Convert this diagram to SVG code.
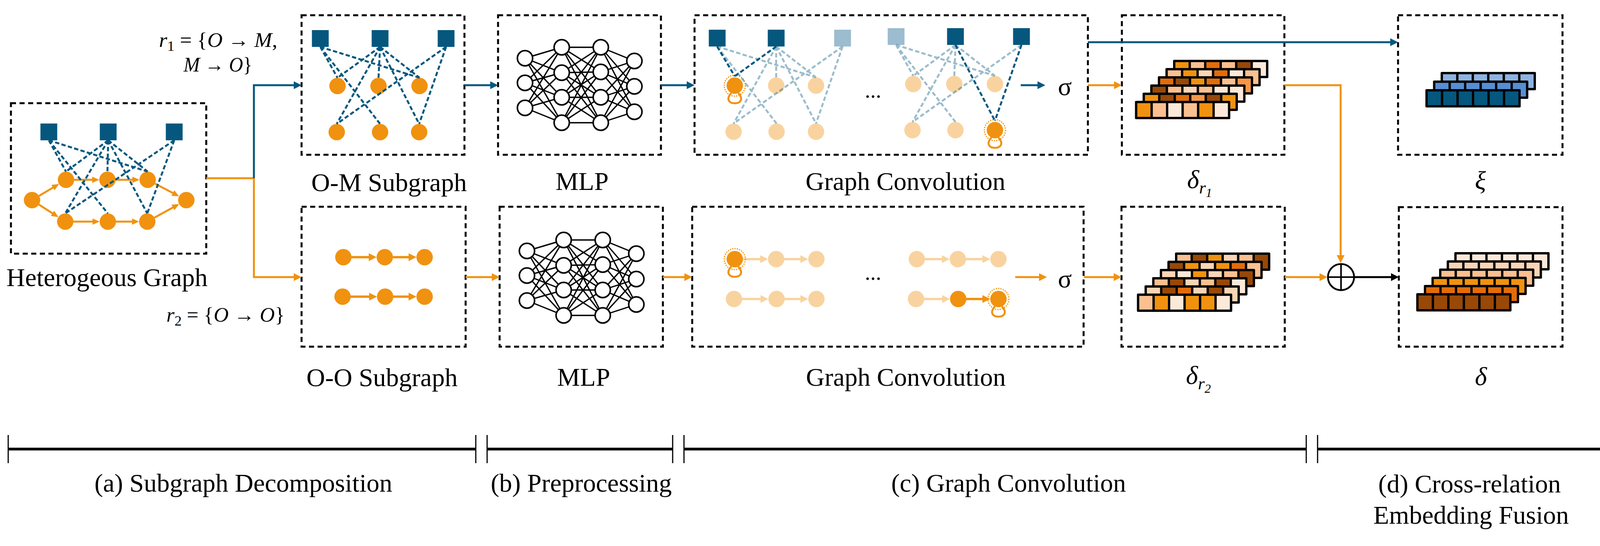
<svg xmlns="http://www.w3.org/2000/svg" width="4142" height="1397" viewBox="0 0 4142 1397">
<style>
.box{fill:none;stroke:#000;stroke-width:5;stroke-dasharray:13 9}
text{font-family:"Liberation Serif","Times New Roman",serif;fill:#000}
.lbl{font-size:66px;text-anchor:middle}
.math{font-size:52px}
.it{font-style:italic}
.sq{fill:#05577E}
.sql{fill:#9CBCCF}
.on{fill:#F0920F}
.onl{fill:#F9D39F}
.de{stroke:#05577E;stroke-width:5;stroke-dasharray:11 6;fill:none}
.del{stroke:#05577E;stroke-opacity:.4;stroke-width:5;stroke-dasharray:11 6;fill:none}
.oa{stroke:#F0920F;stroke-width:5;fill:none}
.oa6{stroke:#F0920F;stroke-width:6;fill:none}
.oal{stroke:#F9D39F;stroke-width:6;fill:none}
.ba{stroke:#05577E;stroke-width:5;fill:none}
.ka{stroke:#000;stroke-width:5;fill:none}
.ring{fill:none;stroke:#F0920F;stroke-width:3;stroke-dasharray:3 3}
.loop{fill:none;stroke:#F0920F;stroke-width:5}
.mn{fill:#fff;stroke:#000;stroke-width:4}
.me{stroke:#000;stroke-width:3.4;fill:none}
.lf{fill:#000}
.cO{fill:#F0920F}.cL{fill:#FAC090}.cD{fill:#E36C09}.cB{fill:#984807}.cC{fill:#FDE9D9}.cP{fill:#FBD5B5}.cA{fill:#F79646}
.x1{fill:#8DB3E2}.x2{fill:#558ED5}.x3{fill:#05577E}
.brk{stroke:#000;stroke-width:7}
.tick{stroke:#000;stroke-width:3}
</style>
<defs>
<marker id="mo" markerUnits="userSpaceOnUse" markerWidth="20" markerHeight="20" refX="14" refY="10" orient="auto"><path d="M0,0L20,10L0,20z" fill="#F0920F"/></marker>
<marker id="mol" markerUnits="userSpaceOnUse" markerWidth="20" markerHeight="20" refX="14" refY="10" orient="auto"><path d="M0,0L20,10L0,20z" fill="#F9D39F"/></marker>
<marker id="mb" markerUnits="userSpaceOnUse" markerWidth="20" markerHeight="20" refX="14" refY="10" orient="auto"><path d="M0,0L20,10L0,20z" fill="#05577E"/></marker>
<marker id="mk" markerUnits="userSpaceOnUse" markerWidth="20" markerHeight="20" refX="14" refY="10" orient="auto"><path d="M0,0L20,10L0,20z" fill="#000"/></marker>
<marker id="mos" markerUnits="userSpaceOnUse" markerWidth="18" markerHeight="16" refX="12" refY="8" orient="auto"><path d="M0,0L18,8L0,16z" fill="#F0920F"/></marker>
<g id="mlpnet">
<path class="me" d="M1344 149L1438 121M1344 149L1438 186M1344 149L1438 249M1344 149L1438 314M1344 212L1438 121M1344 212L1438 186M1344 212L1438 249M1344 212L1438 314M1344 276L1438 121M1344 276L1438 186M1344 276L1438 249M1344 276L1438 314"/>
<path class="me" d="M1438 121L1538 121M1438 121L1538 184M1438 121L1538 249M1438 121L1538 314M1438 186L1538 121M1438 186L1538 184M1438 186L1538 249M1438 186L1538 314M1438 249L1538 121M1438 249L1538 184M1438 249L1538 249M1438 249L1538 314M1438 314L1538 121M1438 314L1538 184M1438 314L1538 249M1438 314L1538 314"/>
<path class="me" d="M1538 121L1624 156M1538 121L1624 221M1538 121L1624 286M1538 184L1624 156M1538 184L1624 221M1538 184L1624 286M1538 249L1624 156M1538 249L1624 221M1538 249L1624 286M1538 314L1624 156M1538 314L1624 221M1538 314L1624 286"/>
<circle class="mn" cx="1344" cy="149" r="19.5"/><circle class="mn" cx="1344" cy="212" r="19.5"/><circle class="mn" cx="1344" cy="276" r="19.5"/>
<circle class="mn" cx="1438" cy="121" r="19.5"/><circle class="mn" cx="1438" cy="186" r="19.5"/><circle class="mn" cx="1438" cy="249" r="19.5"/><circle class="mn" cx="1438" cy="314" r="19.5"/>
<circle class="mn" cx="1538" cy="121" r="19.5"/><circle class="mn" cx="1538" cy="184" r="19.5"/><circle class="mn" cx="1538" cy="249" r="19.5"/><circle class="mn" cx="1538" cy="314" r="19.5"/>
<circle class="mn" cx="1624" cy="156" r="19.5"/><circle class="mn" cx="1624" cy="221" r="19.5"/><circle class="mn" cx="1624" cy="286" r="19.5"/>
</g>
</defs>
<rect width="4142" height="1397" fill="#fff"/>

<!-- Heterogeneous graph -->
<g id="n-hetero">
<rect class="box" x="28" y="264" width="500" height="385"/>
<g class="oa" marker-end="url(#mos)">
<line x1="100" y1="501.2" x2="145.9" y2="473.9"/>
<line x1="99.6" y1="523.4" x2="144.4" y2="552.3"/>
<line x1="190" y1="460" x2="248" y2="460"/>
<line x1="296" y1="460" x2="351" y2="460"/>
<line x1="188" y1="567" x2="249" y2="567"/>
<line x1="297" y1="567" x2="350" y2="567"/>
<line x1="396.6" y1="469.8" x2="453.1" y2="499.4"/>
<line x1="395.4" y1="556.9" x2="453.3" y2="525"/>
</g>
<g class="on">
<circle cx="82" cy="512" r="21"/><circle cx="169" cy="460" r="21"/><circle cx="275" cy="460" r="21"/><circle cx="378" cy="460" r="21"/>
<circle cx="167" cy="567" r="21"/><circle cx="276" cy="567" r="21"/><circle cx="377" cy="567" r="21"/><circle cx="477" cy="512" r="21"/>
</g>
<g class="sq"><rect x="103.5" y="316" width="43" height="43"/><rect x="255.5" y="316" width="43" height="43"/><rect x="424.5" y="316" width="43" height="43"/></g>
<path class="de" d="M125 359L169 439M125 359L276 546M125 359L378 439M277 359L169 439M277 359L275 439M277 359L378 439M277 359L167 546M277 359L377 546M446 359L167 546M446 359L377 546"/>
<text class="lbl" x="274" y="732">Heterogeous Graph</text>
</g>

<!-- O-M subgraph -->
<g id="n-om">
<rect class="box" x="772" y="39" width="417" height="357"/>
<g class="on">
<circle cx="864" cy="220" r="21"/><circle cx="969" cy="220" r="21"/><circle cx="1074" cy="220" r="21"/>
<circle cx="862" cy="338" r="21"/><circle cx="973" cy="338" r="21"/><circle cx="1073" cy="338" r="21"/>
</g>
<g class="sq"><rect x="798.5" y="77" width="43" height="43"/><rect x="951.5" y="77" width="43" height="43"/><rect x="1120.5" y="77" width="43" height="43"/></g>
<path class="de" d="M820 120L864 199M820 120L973 317M820 120L1074 199M973 120L864 199M973 120L969 199M973 120L1074 199M973 120L862 317M973 120L1073 317M1142 120L862 317M1142 120L1073 317"/>
<text class="lbl" x="996" y="489">O-M Subgraph</text>
</g>

<!-- O-O subgraph -->
<g id="n-oo">
<rect class="box" x="772" y="529" width="420" height="358"/>
<g class="oa6" marker-end="url(#mo)">
<line x1="900" y1="658" x2="958" y2="658"/><line x1="1006" y1="658" x2="1060" y2="658"/>
<line x1="898" y1="759" x2="959" y2="759"/><line x1="1007" y1="759" x2="1060" y2="759"/>
</g>
<g class="on">
<circle cx="879" cy="658" r="21"/><circle cx="985" cy="658" r="21"/><circle cx="1087" cy="658" r="21"/>
<circle cx="877" cy="759" r="21"/><circle cx="986" cy="759" r="21"/><circle cx="1087" cy="759" r="21"/>
</g>
<text class="lbl" x="978" y="988">O-O Subgraph</text>
</g>

<!-- MLP -->
<g id="n-mlp-top">
<rect class="box" x="1275" y="39" width="417" height="357"/>
<use href="#mlpnet"/>
<text class="lbl" x="1490" y="486">MLP</text>
</g>
<g id="n-mlp-bottom">
<rect class="box" x="1279" y="529" width="418" height="358"/>
<use href="#mlpnet" transform="translate(5,493)"/>
<text class="lbl" x="1494" y="987">MLP</text>
</g>

<!-- Graph convolution top -->
<g id="n-gc-top">
<rect class="box" x="1778" y="39" width="1007" height="357"/>
<g class="onl">
<circle cx="1987" cy="219" r="21"/><circle cx="2089" cy="219" r="21"/>
<circle cx="1878" cy="337" r="21"/><circle cx="1988" cy="337" r="21"/><circle cx="2089" cy="337" r="21"/>
<circle cx="2338" cy="215" r="21"/><circle cx="2443" cy="215" r="21"/><circle cx="2547" cy="215" r="21"/>
<circle cx="2336" cy="333" r="21"/><circle cx="2446" cy="333" r="21"/>
</g>
<circle class="on" cx="1881" cy="219" r="21"/>
<circle class="ring" cx="1881" cy="219" r="27"/>
<path class="loop" d="M1872 238C1841 273 1921 273 1890 238"/>
<circle class="on" cx="2547" cy="333" r="21"/>
<circle class="ring" cx="2547" cy="333" r="27"/>
<path class="loop" d="M2538 352C2507 387 2587 387 2556 352"/>
<g class="sq"><rect x="1814.5" y="76" width="43" height="43"/><rect x="1965.5" y="76" width="43" height="43"/><rect x="2424.5" y="72" width="43" height="43"/><rect x="2593.5" y="72" width="43" height="43"/></g>
<g class="sql"><rect x="2135.5" y="76" width="43" height="43"/><rect x="2272.5" y="72" width="43" height="43"/></g>
<path class="del" d="M1836 119L1988 316M1836 119L2089 198M1987 119L1987 198M1987 119L2089 198M1987 119L1878 316M1987 119L2089 316M2157 119L1878 316M2157 119L2089 316"/>
<path class="del" d="M2294 115L2338 194M2294 115L2446 312M2294 115L2547 194M2446 115L2338 194M2446 115L2443 194M2446 115L2547 194M2446 115L2336 312M2615 115L2336 312"/>
<path class="de" d="M1836 119L1881 195M1987 119L1881 195M2446 115L2547 309M2615 115L2547 309"/>
<text x="2235" y="250" font-size="56" text-anchor="middle">...</text>
<line class="ba" x1="2613" y1="218" x2="2670" y2="218" marker-end="url(#mb)"/>
<text class="lbl" x="2726" y="243">σ</text>
<text class="lbl" x="2318" y="486">Graph Convolution</text>
</g>

<!-- Graph convolution bottom -->
<g id="n-gc-bottom">
<rect class="box" x="1772" y="529" width="1002" height="358"/>
<g class="oal" marker-end="url(#mol)">
<line x1="1902" y1="663" x2="1960" y2="663"/><line x1="2008" y1="663" x2="2063" y2="663"/>
<line x1="1900" y1="765" x2="1961" y2="765"/><line x1="2009" y1="765" x2="2063" y2="765"/>
<line x1="2368" y1="663" x2="2425" y2="663"/><line x1="2473" y1="663" x2="2529" y2="663"/>
<line x1="2366" y1="765" x2="2426" y2="765"/>
</g>
<line class="oa6" x1="2474" y1="765" x2="2529" y2="765" marker-end="url(#mo)"/>
<g class="onl">
<circle cx="1987" cy="663" r="21"/><circle cx="2090" cy="663" r="21"/>
<circle cx="1879" cy="765" r="21"/><circle cx="1988" cy="765" r="21"/><circle cx="2090" cy="765" r="21"/>
<circle cx="2347" cy="663" r="21"/><circle cx="2452" cy="663" r="21"/><circle cx="2556" cy="663" r="21"/>
<circle cx="2345" cy="765" r="21"/>
</g>
<circle class="on" cx="2453" cy="765" r="21"/>
<circle class="on" cx="1881" cy="663" r="21"/>
<circle class="ring" cx="1881" cy="663" r="27"/>
<path class="loop" d="M1872 682C1841 717 1921 717 1890 682"/>
<circle class="on" cx="2556" cy="765" r="21"/>
<circle class="ring" cx="2556" cy="765" r="27"/>
<path class="loop" d="M2547 784C2516 819 2596 819 2565 784"/>
<text x="2235" y="716" font-size="56" text-anchor="middle">...</text>
<line class="oa" x1="2599" y1="709" x2="2674" y2="709" marker-end="url(#mo)"/>
<text class="lbl" x="2726" y="735">σ</text>
<text class="lbl" x="2319" y="987">Graph Convolution</text>
</g>

<!-- delta r1 -->
<g id="n-delta-r1">
<rect class="box" x="2872" y="39" width="416" height="357"/>
<g transform="translate(3003,153)"><rect class="lf" width="244" height="47" rx="3"/><rect class="cO" x="6" y="6" width="33.7" height="35"/><rect class="cL" x="45.7" y="6" width="33.7" height="35"/><rect class="cD" x="85.3" y="6" width="33.7" height="35"/><rect class="cL" x="125" y="6" width="33.7" height="35"/><rect class="cB" x="164.7" y="6" width="33.7" height="35"/><rect class="cC" x="204.3" y="6" width="33.7" height="35"/></g>
<g transform="translate(2983.5,174)"><rect class="lf" width="244" height="47" rx="3"/><rect class="cL" x="6" y="6" width="33.7" height="35"/><rect class="cO" x="45.7" y="6" width="33.7" height="35"/><rect class="cP" x="85.3" y="6" width="33.7" height="35"/><rect class="cD" x="125" y="6" width="33.7" height="35"/><rect class="cC" x="164.7" y="6" width="33.7" height="35"/><rect class="cL" x="204.3" y="6" width="33.7" height="35"/></g>
<g transform="translate(2964,195)"><rect class="lf" width="244" height="47" rx="3"/><rect class="cD" x="6" y="6" width="33.7" height="35"/><rect class="cB" x="45.7" y="6" width="33.7" height="35"/><rect class="cO" x="85.3" y="6" width="33.7" height="35"/><rect class="cD" x="125" y="6" width="33.7" height="35"/><rect class="cL" x="164.7" y="6" width="33.7" height="35"/><rect class="cA" x="204.3" y="6" width="33.7" height="35"/></g>
<g transform="translate(2944.5,216)"><rect class="lf" width="244" height="47" rx="3"/><rect class="cB" x="6" y="6" width="33.7" height="35"/><rect class="cL" x="45.7" y="6" width="33.7" height="35"/><rect class="cP" x="85.3" y="6" width="33.7" height="35"/><rect class="cL" x="125" y="6" width="33.7" height="35"/><rect class="cC" x="164.7" y="6" width="33.7" height="35"/><rect class="cC" x="204.3" y="6" width="33.7" height="35"/></g>
<g transform="translate(2925,237)"><rect class="lf" width="244" height="47" rx="3"/><rect class="cO" x="6" y="6" width="33.7" height="35"/><rect class="cB" x="45.7" y="6" width="33.7" height="35"/><rect class="cD" x="85.3" y="6" width="33.7" height="35"/><rect class="cA" x="125" y="6" width="33.7" height="35"/><rect class="cB" x="164.7" y="6" width="33.7" height="35"/><rect class="cO" x="204.3" y="6" width="33.7" height="35"/></g>
<g transform="translate(2905.5,258)"><rect class="lf" width="244" height="47" rx="3"/><rect class="cO" x="6" y="6" width="33.7" height="35"/><rect class="cL" x="45.7" y="6" width="33.7" height="35"/><rect class="cC" x="85.3" y="6" width="33.7" height="35"/><rect class="cL" x="125" y="6" width="33.7" height="35"/><rect class="cO" x="164.7" y="6" width="33.7" height="35"/><rect class="cC" x="204.3" y="6" width="33.7" height="35"/></g>
<text x="3039" y="481" font-size="66" class="it">δ<tspan font-size="44" dy="14">r</tspan><tspan font-size="32" dy="9">1</tspan></text>
</g>

<!-- delta r2 -->
<g id="n-delta-r2">
<rect class="box" x="2871" y="529" width="418" height="358"/>
<g transform="translate(3008,646)"><rect class="lf" width="244" height="47" rx="3"/><rect class="cL" x="6" y="6" width="33.7" height="35"/><rect class="cB" x="45.7" y="6" width="33.7" height="35"/><rect class="cO" x="85.3" y="6" width="33.7" height="35"/><rect class="cP" x="125" y="6" width="33.7" height="35"/><rect class="cL" x="164.7" y="6" width="33.7" height="35"/><rect class="cB" x="204.3" y="6" width="33.7" height="35"/></g>
<g transform="translate(2988.5,667)"><rect class="lf" width="244" height="47" rx="3"/><rect class="cB" x="6" y="6" width="33.7" height="35"/><rect class="cO" x="45.7" y="6" width="33.7" height="35"/><rect class="cP" x="85.3" y="6" width="33.7" height="35"/><rect class="cO" x="125" y="6" width="33.7" height="35"/><rect class="cD" x="164.7" y="6" width="33.7" height="35"/><rect class="cL" x="204.3" y="6" width="33.7" height="35"/></g>
<g transform="translate(2969,688)"><rect class="lf" width="244" height="47" rx="3"/><rect class="cP" x="6" y="6" width="33.7" height="35"/><rect class="cC" x="45.7" y="6" width="33.7" height="35"/><rect class="cO" x="85.3" y="6" width="33.7" height="35"/><rect class="cP" x="125" y="6" width="33.7" height="35"/><rect class="cL" x="164.7" y="6" width="33.7" height="35"/><rect class="cB" x="204.3" y="6" width="33.7" height="35"/></g>
<g transform="translate(2949.5,709)"><rect class="lf" width="244" height="47" rx="3"/><rect class="cL" x="6" y="6" width="33.7" height="35"/><rect class="cB" x="45.7" y="6" width="33.7" height="35"/><rect class="cP" x="85.3" y="6" width="33.7" height="35"/><rect class="cL" x="125" y="6" width="33.7" height="35"/><rect class="cB" x="164.7" y="6" width="33.7" height="35"/><rect class="cC" x="204.3" y="6" width="33.7" height="35"/></g>
<g transform="translate(2930,730)"><rect class="lf" width="244" height="47" rx="3"/><rect class="cP" x="6" y="6" width="33.7" height="35"/><rect class="cB" x="45.7" y="6" width="33.7" height="35"/><rect class="cD" x="85.3" y="6" width="33.7" height="35"/><rect class="cP" x="125" y="6" width="33.7" height="35"/><rect class="cB" x="164.7" y="6" width="33.7" height="35"/><rect class="cP" x="204.3" y="6" width="33.7" height="35"/></g>
<g transform="translate(2910.5,751)"><rect class="lf" width="244" height="47" rx="3"/><rect class="cL" x="6" y="6" width="33.7" height="35"/><rect class="cO" x="45.7" y="6" width="33.7" height="35"/><rect class="cC" x="85.3" y="6" width="33.7" height="35"/><rect class="cO" x="125" y="6" width="33.7" height="35"/><rect class="cO" x="164.7" y="6" width="33.7" height="35"/><rect class="cC" x="204.3" y="6" width="33.7" height="35"/></g>
<text x="3036" y="982" font-size="66" class="it">δ<tspan font-size="44" dy="14">r</tspan><tspan font-size="32" dy="9">2</tspan></text>
</g>

<!-- xi -->
<g id="n-xi">
<rect class="box" x="3579" y="39" width="421" height="357"/>
<g transform="translate(3688,184)"><rect class="lf" width="244" height="47" rx="3"/><rect class="x1" x="6" y="6" width="33.7" height="35"/><rect class="x1" x="45.7" y="6" width="33.7" height="35"/><rect class="x1" x="85.3" y="6" width="33.7" height="35"/><rect class="x1" x="125" y="6" width="33.7" height="35"/><rect class="x1" x="164.7" y="6" width="33.7" height="35"/><rect class="x1" x="204.3" y="6" width="33.7" height="35"/></g>
<g transform="translate(3668.5,206)"><rect class="lf" width="244" height="47" rx="3"/><rect class="x2" x="6" y="6" width="33.7" height="35"/><rect class="x2" x="45.7" y="6" width="33.7" height="35"/><rect class="x2" x="85.3" y="6" width="33.7" height="35"/><rect class="x2" x="125" y="6" width="33.7" height="35"/><rect class="x2" x="164.7" y="6" width="33.7" height="35"/><rect class="x2" x="204.3" y="6" width="33.7" height="35"/></g>
<g transform="translate(3649,228)"><rect class="lf" width="244" height="47" rx="3"/><rect class="x3" x="6" y="6" width="33.7" height="35"/><rect class="x3" x="45.7" y="6" width="33.7" height="35"/><rect class="x3" x="85.3" y="6" width="33.7" height="35"/><rect class="x3" x="125" y="6" width="33.7" height="35"/><rect class="x3" x="164.7" y="6" width="33.7" height="35"/><rect class="x3" x="204.3" y="6" width="33.7" height="35"/></g>
<text class="lbl it" x="3790" y="484">ξ</text>
</g>

<!-- delta -->
<g id="n-delta">
<rect class="box" x="3581" y="530" width="419" height="357"/>
<g transform="translate(3723,645)"><rect class="lf" width="244" height="47" rx="3"/><rect class="cC" x="6" y="6" width="33.7" height="35"/><rect class="cC" x="45.7" y="6" width="33.7" height="35"/><rect class="cC" x="85.3" y="6" width="33.7" height="35"/><rect class="cC" x="125" y="6" width="33.7" height="35"/><rect class="cC" x="164.7" y="6" width="33.7" height="35"/><rect class="cC" x="204.3" y="6" width="33.7" height="35"/></g>
<g transform="translate(3703.5,666)"><rect class="lf" width="244" height="47" rx="3"/><rect class="cP" x="6" y="6" width="33.7" height="35"/><rect class="cP" x="45.7" y="6" width="33.7" height="35"/><rect class="cP" x="85.3" y="6" width="33.7" height="35"/><rect class="cP" x="125" y="6" width="33.7" height="35"/><rect class="cP" x="164.7" y="6" width="33.7" height="35"/><rect class="cP" x="204.3" y="6" width="33.7" height="35"/></g>
<g transform="translate(3684,687)"><rect class="lf" width="244" height="47" rx="3"/><rect class="cL" x="6" y="6" width="33.7" height="35"/><rect class="cL" x="45.7" y="6" width="33.7" height="35"/><rect class="cL" x="85.3" y="6" width="33.7" height="35"/><rect class="cL" x="125" y="6" width="33.7" height="35"/><rect class="cL" x="164.7" y="6" width="33.7" height="35"/><rect class="cL" x="204.3" y="6" width="33.7" height="35"/></g>
<g transform="translate(3664.5,708)"><rect class="lf" width="244" height="47" rx="3"/><rect class="cO" x="6" y="6" width="33.7" height="35"/><rect class="cO" x="45.7" y="6" width="33.7" height="35"/><rect class="cO" x="85.3" y="6" width="33.7" height="35"/><rect class="cO" x="125" y="6" width="33.7" height="35"/><rect class="cO" x="164.7" y="6" width="33.7" height="35"/><rect class="cO" x="204.3" y="6" width="33.7" height="35"/></g>
<g transform="translate(3645,729)"><rect class="lf" width="244" height="47" rx="3"/><rect class="cD" x="6" y="6" width="33.7" height="35"/><rect class="cD" x="45.7" y="6" width="33.7" height="35"/><rect class="cD" x="85.3" y="6" width="33.7" height="35"/><rect class="cD" x="125" y="6" width="33.7" height="35"/><rect class="cD" x="164.7" y="6" width="33.7" height="35"/><rect class="cD" x="204.3" y="6" width="33.7" height="35"/></g>
<g transform="translate(3625.5,750)"><rect class="lf" width="244" height="47" rx="3"/><rect class="cB" x="6" y="6" width="33.7" height="35"/><rect class="cB" x="45.7" y="6" width="33.7" height="35"/><rect class="cB" x="85.3" y="6" width="33.7" height="35"/><rect class="cB" x="125" y="6" width="33.7" height="35"/><rect class="cB" x="164.7" y="6" width="33.7" height="35"/><rect class="cB" x="204.3" y="6" width="33.7" height="35"/></g>
<text class="lbl it" x="3791" y="985">δ</text>
</g>

<!-- fusion -->
<g id="n-fusion">
<circle cx="3433" cy="709" r="33.5" fill="#fff" stroke="#000" stroke-width="4.5"/>
<path d="M3433 675.5V742.5M3399.5 709H3466.5" stroke="#000" stroke-width="4"/>
</g>

<!-- connectors -->
<g id="connectors">
<path class="oa" d="M528 456H650"/>
<path class="ba" d="M650 456V218H766" marker-end="url(#mb)"/>
<path class="oa" d="M650 456V709H766" marker-end="url(#mo)"/>
<line class="ba" x1="1189" y1="218" x2="1269" y2="218" marker-end="url(#mb)"/>
<line class="ba" x1="1692" y1="218" x2="1772" y2="218" marker-end="url(#mb)"/>
<line class="oa" x1="2785" y1="218" x2="2866" y2="218" marker-end="url(#mo)"/>
<line class="ba" x1="2785" y1="108" x2="3573" y2="108" marker-end="url(#mb)"/>
<path class="oa" d="M3288 218H3432V667" marker-end="url(#mo)"/>
<line class="oa" x1="1192" y1="709" x2="1273" y2="709" marker-end="url(#mo)"/>
<line class="oa" x1="1697" y1="709" x2="1766" y2="709" marker-end="url(#mo)"/>
<line class="oa" x1="2775" y1="709" x2="2865" y2="709" marker-end="url(#mo)"/>
<line class="oa" x1="3289" y1="709" x2="3392" y2="709" marker-end="url(#mo)"/>
<line class="ka" x1="3466" y1="709" x2="3575" y2="709" marker-end="url(#mk)"/>
</g>

<!-- relation labels -->
<g id="relation-labels">
<text class="math" x="407" y="120" textLength="303" lengthAdjust="spacingAndGlyphs"><tspan class="it">r</tspan><tspan font-size="36" dy="10">1</tspan><tspan dy="-10"> = {</tspan><tspan class="it">O</tspan> → <tspan class="it">M</tspan>,</text>
<text class="math" x="470" y="183" textLength="176" lengthAdjust="spacingAndGlyphs"><tspan class="it">M</tspan> → <tspan class="it">O</tspan>}</text>
<text class="math" x="426" y="823" textLength="303" lengthAdjust="spacingAndGlyphs"><tspan class="it">r</tspan><tspan font-size="36" dy="10">2</tspan><tspan dy="-10"> = {</tspan><tspan class="it">O</tspan> → <tspan class="it">O</tspan>}</text>
</g>

<!-- stage bracket -->
<g id="stages">
<line class="brk" x1="21" y1="1149" x2="1218" y2="1149"/>
<line class="brk" x1="1247" y1="1149" x2="1722" y2="1149"/>
<line class="brk" x1="1751" y1="1149" x2="3344" y2="1149"/>
<line class="brk" x1="3373" y1="1149" x2="4113" y2="1149"/>
<path class="tick" d="M21 1113V1185M1218 1113V1185M1247 1113V1185M1722 1113V1185M1751 1113V1185M3344 1113V1185M3373 1113V1185M4113 1113V1185"/>
<text class="lbl" x="623" y="1258">(a) Subgraph Decomposition</text>
<text class="lbl" x="1488" y="1258">(b) Preprocessing</text>
<text class="lbl" x="2582" y="1258">(c) Graph Convolution</text>
<text class="lbl" x="3762" y="1260">(d) Cross-relation</text>
<text class="lbl" x="3766" y="1340">Embedding Fusion</text>
</g>
</svg>
